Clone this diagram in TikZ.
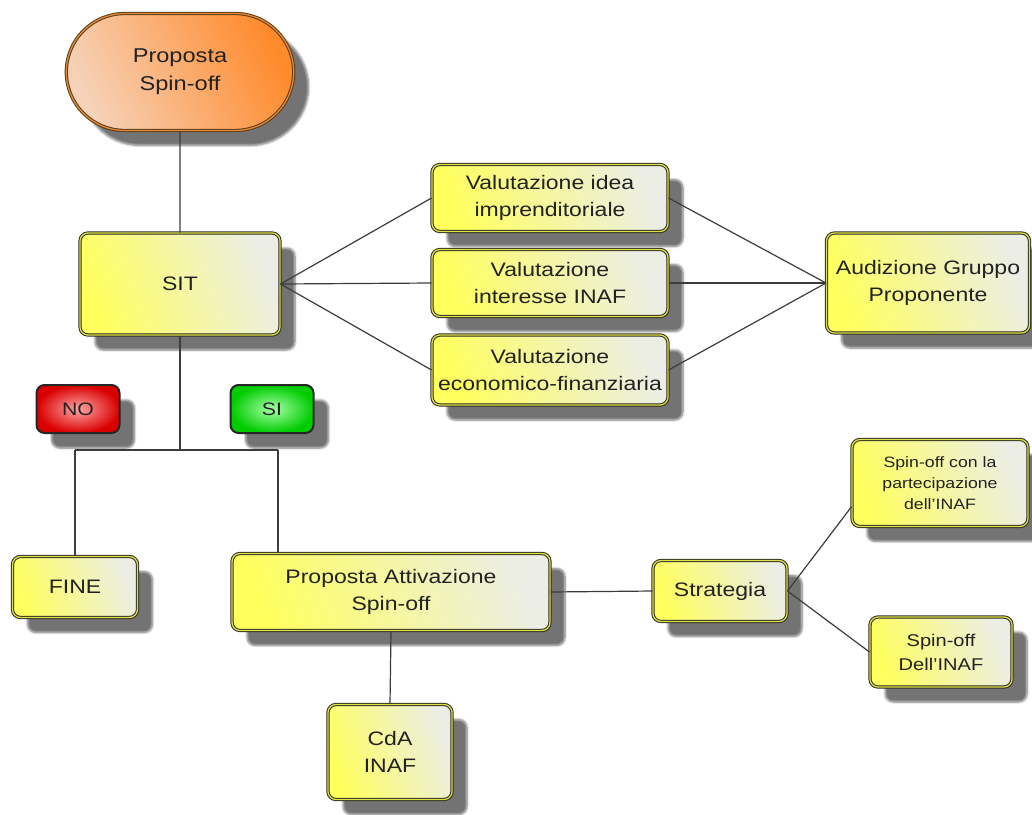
\documentclass[tikz,border=0pt]{standalone}
\usepackage{fontspec}
\setmainfont{Liberation Sans}[FakeStretch=1.18]
\usetikzlibrary{shapes.misc,shadows.blur}
\definecolor{ylw}{HTML}{FFFF5E}
\definecolor{ylwpale}{HTML}{ECEEE6}
\definecolor{bordr}{HTML}{2E2E22}
\definecolor{orng}{HTML}{FF8A2C}
\definecolor{orngpale}{HTML}{F6D2B8}
\definecolor{txt}{HTML}{222222}
\definecolor{lin}{HTML}{3C3C3C}
\begin{document}
\begin{tikzpicture}[x=1pt,y=-1pt,
  shad/.style={blur shadow={shadow xshift=15pt, shadow yshift=-15pt, shadow blur steps=6, shadow opacity=55}},
  box/.style={shad, rounded corners=8pt, draw=bordr, double=ylw!75!olive, double distance=1.3pt, line width=1pt,
    left color=ylw, right color=ylwpale, shading angle=110, align=center, text=txt,
    font=\fontsize{19.5}{27}\selectfont, inner sep=1pt},
  term/.style={shad, rounded rectangle, draw=bordr!80!orange, double=orng!60!brown, double distance=1.3pt, line width=1pt,
    left color=orngpale, right color=orng, shading angle=115, align=center, text=txt,
    font=\fontsize{20}{28}\selectfont},
  redbox/.style={shad, rounded corners=8pt, draw=black!85, line width=2pt, inner color=red!35!white, outer color=red!85!black,
    text=txt, font=\fontsize{18}{20}\selectfont},
  greenbox/.style={shad, rounded corners=8pt, draw=black!85, line width=2pt, inner color=green!35!white, outer color=green!80!black,
    text=txt, font=\fontsize{18}{20}\selectfont},
  conn/.style={draw=lin, line width=1.2pt}
]
\useasboundingbox (0,0) rectangle (1032,814);

\node[term, minimum width=234pt, minimum height=117pt] (ps) at (180,72) {Proposta\\Spin-off};
\node[box, minimum width=200pt, minimum height=102pt] (sit) at (180,284) {SIT};
\node[box, minimum width=236pt, minimum height=67pt] (v1) at (550,198) {Valutazione idea\\imprenditoriale};
\node[box, minimum width=236pt, minimum height=67pt] (v2) at (550,283) {Valutazione\\interesse INAF};
\node[box, minimum width=236pt, minimum height=70pt] (v3) at (550,370) {Valutazione\\economico-finanziaria};
\node[box, minimum width=203pt, minimum height=100pt] (aud) at (928,283) {Audizione Gruppo\\Proponente};
\node[redbox, minimum width=83pt, minimum height=48pt] (no) at (78,409) {NO};
\node[greenbox, minimum width=83pt, minimum height=48pt] (si) at (272,409) {SI};
\node[box, minimum width=125pt, minimum height=61pt] (fine) at (75,587) {FINE};
\node[box, minimum width=318pt, minimum height=77pt] (pa) at (391,592) {Proposta Attivazione\\Spin-off};
\node[box, minimum width=134pt, minimum height=61pt] (str) at (720,591) {Strategia};
\node[box, minimum width=176pt, minimum height=87pt, font=\fontsize{15}{21}\selectfont] (sp1) at (940,483) {Spin-off con la\\partecipazione\\dell'INAF};
\node[box, minimum width=142pt, minimum height=70pt, font=\fontsize{17}{24}\selectfont] (sp2) at (941,652) {Spin-off\\Dell'INAF};
\node[box, minimum width=124pt, minimum height=95pt] (cda) at (390,752) {CdA\\INAF};

\coordinate (j) at (180,450);
\coordinate (jl) at (75,450);
\coordinate (jr) at (278,450);

\draw[conn] (ps) -- (sit);
\draw[conn] (sit.east) -- (v1.west);
\draw[conn] (sit.east) -- (v2.west);
\draw[conn] (sit.east) -- (v3.west);
\draw[conn] (v1.east) -- (aud.west);
\draw[conn] (v2.east) -- (aud.west);
\draw[conn] (v3.east) -- (aud.west);
\draw[conn] (sit.south) -- (j);
\draw[conn] (jl) -- (jr);
\draw[conn] (jl) -- (fine.north);
\draw[conn] (jr) -- (jr |- pa.north);
\draw[conn] (pa.east) -- (str.west);
\draw[conn] (str.east) -- (sp1.195);
\draw[conn] (str.east) -- (sp2.west);
\draw[conn] (pa.south) -- (cda.north);
\end{tikzpicture}
\end{document}
